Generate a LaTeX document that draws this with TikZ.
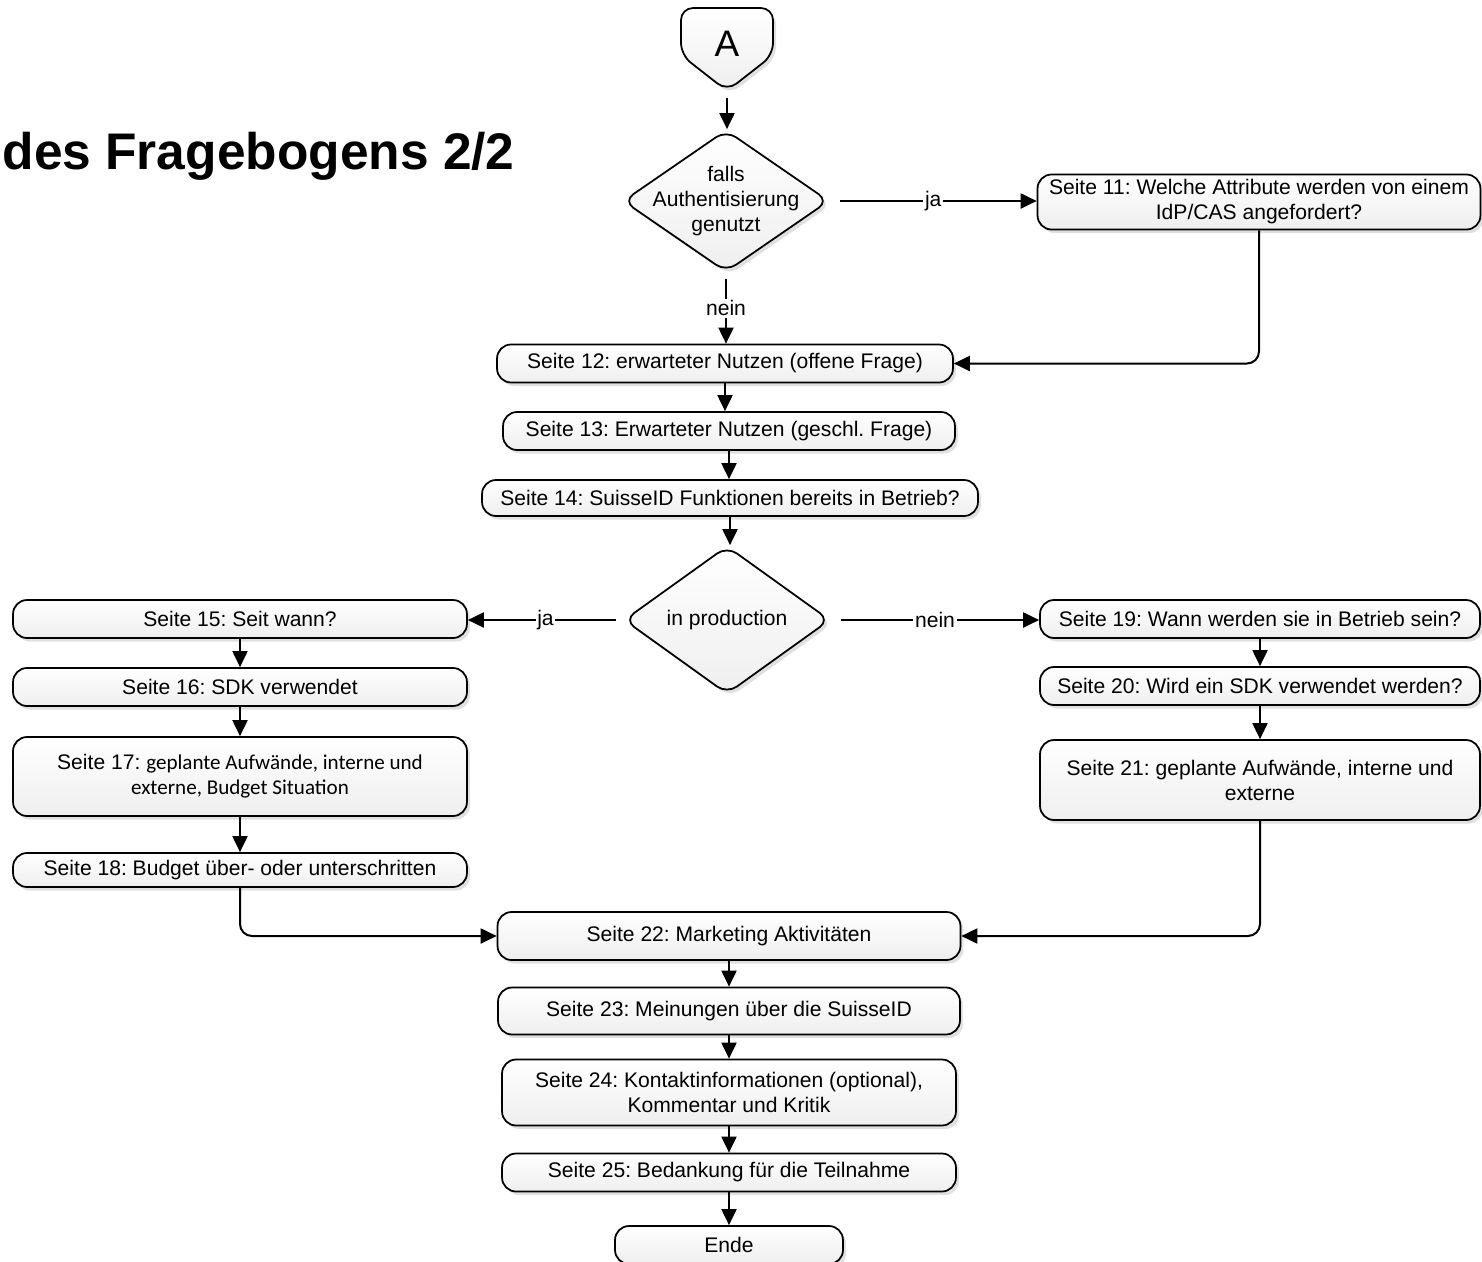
\documentclass[tikz,border=0pt]{standalone}
\usepackage{fontspec}
\setmainfont{Liberation Sans}
\newfontfamily\calibri{Carlito}
\usetikzlibrary{arrows.meta,shapes.geometric,shadows}
\frenchspacing

\tikzset{
  schatten/.style={drop shadow={shadow xshift=0.06cm, shadow yshift=-0.07cm, opacity=0.12, fill=black}},
  seite/.style={draw, line width=0.035cm, rounded corners=0.28cm, top color=white, bottom color=gray!13,
    schatten, inner sep=2pt, align=center},
  raute/.style={diamond, draw, line width=0.035cm, rounded corners=0.24cm, top color=white, bottom color=gray!13,
    schatten, minimum width=4.12cm, minimum height=2.84cm, inner sep=0pt},
  pfeil/.style={-{Triangle[length=0.32cm,width=0.3cm]}, line width=0.04cm},
  beschr/.style={fill=white, inner sep=1pt}
}

\begin{document}
\begin{tikzpicture}[x=0.02cm, y=-0.02cm, font=\fontsize{12}{14.2}\selectfont]
\useasboundingbox (0,0) rectangle (1482,1262);

% Titel
\node[anchor=base east, inner sep=0pt, font=\fontsize{29.3}{34}\selectfont\bfseries] (titel) at (515,169) {des Fragebogens 2/2};

% Konnektor A
\draw[line width=0.035cm, rounded corners=0.24cm, top color=white, bottom color=gray!13, schatten]
  (727,8) -- (773,8) -- (773,55) -- (727,91) -- (681,55) -- (681,8) -- cycle;
\node[font=\fontsize{21}{24}\selectfont] (A) at (727,44) {A};
\coordinate (Aspitze) at (727,91);

% Entscheidung Authentisierung
\node[raute] (d1) at (726,201) {};
\node[align=center] (d1text) at (d1) {falls\\Authentisierung\\genutzt};
\node[seite, minimum width=8.86cm, minimum height=1.1cm] (s11) at (1259,202) {Seite 11: Welche Attribute werden von einem\\IdP/CAS angefordert?};

\node[seite, minimum width=9.12cm, minimum height=0.76cm] (s12) at (725,363.5) {Seite 12: erwarteter Nutzen (offene Frage)};
\node[seite, minimum width=9.04cm, minimum height=0.76cm] (s13) at (729,431) {Seite 13: Erwarteter Nutzen (geschl. Frage)};
\node[seite, minimum width=9.92cm, minimum height=0.72cm] (s14) at (730,498) {Seite 14: SuisseID Funktionen bereits in Betrieb?};

% Entscheidung production
\node[raute, minimum height=2.96cm] (d2) at (727,620) {};
\node (d2text) at (d2) {in production};

% linke Spalte
\node[seite, minimum width=9.08cm, minimum height=0.76cm] (s15) at (240,619) {Seite 15: Seit wann?};
\node[seite, minimum width=9.08cm, minimum height=0.76cm] (s16) at (240,687) {Seite 16: SDK verwendet};
\node[seite, minimum width=9.08cm, minimum height=1.58cm] (s17) at (240,776.5) {Seite 17: {\calibri geplante Aufwände, interne und}\\{\calibri externe, Budget Situation}};
\node[seite, minimum width=9.08cm, minimum height=0.68cm] (s18) at (240,870) {Seite 18: Budget über- oder unterschritten};

% rechte Spalte
\node[seite, minimum width=8.8cm, minimum height=0.76cm] (s19) at (1260,619) {Seite 19: Wann werden sie in Betrieb sein?};
\node[seite, minimum width=8.8cm, minimum height=0.76cm] (s20) at (1260,686) {Seite 20: Wird ein SDK verwendet werden?};
\node[seite, minimum width=8.8cm, minimum height=1.6cm] (s21) at (1260,780) {Seite 21: geplante Aufwände, interne und\\externe};

% Schluss
\node[seite, minimum width=9.26cm, minimum height=0.96cm] (s22) at (729,936) {Seite 22: Marketing Aktivitäten};
\node[seite, minimum width=9.24cm, minimum height=0.94cm] (s23) at (729,1011) {Seite 23: Meinungen über die SuisseID};
\node[seite, minimum width=9.08cm, minimum height=1.32cm] (s24) at (729,1092.5) {Seite 24: Kontaktinformationen (optional),\\Kommentar und Kritik};
\node[seite, minimum width=9.08cm, minimum height=0.76cm] (s25) at (729,1172.5) {Seite 25: Bedankung für die Teilnahme};
\node[seite, minimum width=4.56cm, minimum height=0.76cm] (ende) at (729,1245) {Ende};

% Verbindungen
\draw[pfeil, shorten <=0.14cm] (Aspitze) -- (Aspitze |- d1.north);
\draw[pfeil, shorten <=0.2cm] (d1.east) -- node[beschr] {ja} (d1.east -| s11.west);
\draw[pfeil, shorten <=0.12cm] (d1.south) -- node[beschr] {nein} (d1.south |- s12.north);
\draw[pfeil, rounded corners=0.24cm] (s11.south) |- (s12.east);
\draw[pfeil] (s12.south) -- (s12.south |- s13.north);
\draw[pfeil] (s13.south) -- (s13.south |- s14.north);
\draw[pfeil] (s14.south) -- (s14.south |- d2.north);

\draw[pfeil, shorten <=0.14cm] (d2.west) -- node[beschr] {ja} (d2.west -| s15.east);
\draw[pfeil, shorten <=0.2cm] (d2.east) -- node[beschr] {nein} (d2.east -| s19.west);

\draw[pfeil] (s15.south) -- (s16.north);
\draw[pfeil] (s16.south) -- (s17.north);
\draw[pfeil] (s17.south) -- (s18.north);
\draw[pfeil] (s19.south) -- (s20.north);
\draw[pfeil] (s20.south) -- (s21.north);

\draw[pfeil, rounded corners=0.24cm] (s18.south) |- (s22.west);
\draw[pfeil, rounded corners=0.24cm] (s21.south) |- (s22.east);

\draw[pfeil] (s22.south) -- (s23.north);
\draw[pfeil] (s23.south) -- (s24.north);
\draw[pfeil] (s24.south) -- (s25.north);
\draw[pfeil] (s25.south) -- (ende.north);
\end{tikzpicture}
\end{document}
